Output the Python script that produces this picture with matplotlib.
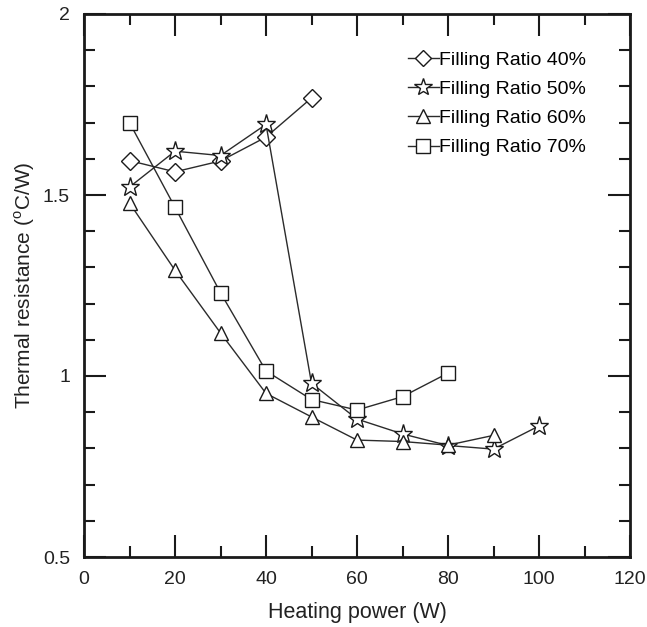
import matplotlib
matplotlib.use('Agg')
import matplotlib.pyplot as plt
from matplotlib.ticker import MultipleLocator, FormatStrFormatter

plt.rcParams['font.family'] = ['Liberation Sans', 'DejaVu Sans']
plt.rcParams['mathtext.fontset'] = 'custom'
plt.rcParams['mathtext.rm'] = 'Liberation Sans'

# Heating power (W)
x_40 = [10, 20, 30, 40, 50]
x_50 = [10, 20, 30, 40, 50, 60, 70, 80, 90, 100]
x_60 = [10, 20, 30, 40, 50, 60, 70, 80, 90]
x_70 = [10, 20, 30, 40, 50, 60, 70, 80]

# Thermal resistance (C/W)
r_40 = [1.595, 1.564, 1.594, 1.660, 1.768]
r_50 = [1.522, 1.621, 1.609, 1.695, 0.980, 0.881, 0.840, 0.808, 0.798, 0.862]
r_60 = [1.478, 1.292, 1.119, 0.952, 0.887, 0.823, 0.819, 0.809, 0.836]
r_70 = [1.700, 1.466, 1.230, 1.014, 0.935, 0.906, 0.943, 1.008]

labels = ['Filling Ratio 40%', 'Filling Ratio 50%', 'Filling Ratio 60%', 'Filling Ratio 70%']

fig = plt.figure(figsize=(6.47, 6.27), dpi=100)
ax = fig.add_axes([84 / 647, 70 / 627, 546 / 647, 543 / 627])

line_col = '#2b2b2b'
style = dict(color=line_col, lw=1.0, mfc='white', mec='#1a1a1a', mew=1.0)
ax.plot(x_40, r_40, marker='D', ms=9, label=labels[0], **style)
ax.plot(x_50, r_50, marker='*', ms=14, label=labels[1], **style)
ax.plot(x_60, r_60, marker='^', ms=10, label=labels[2], **style)
ax.plot(x_70, r_70, marker='s', ms=10, label=labels[3], **style)

ax.set_xlim(0, 120)
ax.set_ylim(0.5, 2)
ax.xaxis.set_major_locator(MultipleLocator(20))
ax.xaxis.set_minor_locator(MultipleLocator(10))
ax.yaxis.set_major_locator(MultipleLocator(0.5))
ax.yaxis.set_minor_locator(MultipleLocator(0.1))
ax.yaxis.set_major_formatter(FormatStrFormatter('%g'))

ax.tick_params(which='both', direction='in', top=True, right=True, width=1.5, color='#1a1a1a')
ax.tick_params(which='major', length=16, labelsize=14, pad=10, labelcolor='#222222')
ax.tick_params(which='minor', length=8)
for s in ax.spines.values():
    s.set_linewidth(2)
    s.set_color('#1a1a1a')

ax.set_xlabel('Heating power (W)', fontsize=15.5, color='#222222', labelpad=10)
ax.set_ylabel(r'Thermal resistance ($^\mathrm{o}$C/W)', fontsize=15, color='#222222', labelpad=4)

ax.legend(loc='upper left', bbox_to_anchor=(0.593, 0.932), frameon=False, fontsize=14,
          handlelength=1.6, handletextpad=0.0, labelspacing=0.6, borderaxespad=0,
          borderpad=0, markerscale=0.95)

plt.savefig('out.png', dpi=100)
